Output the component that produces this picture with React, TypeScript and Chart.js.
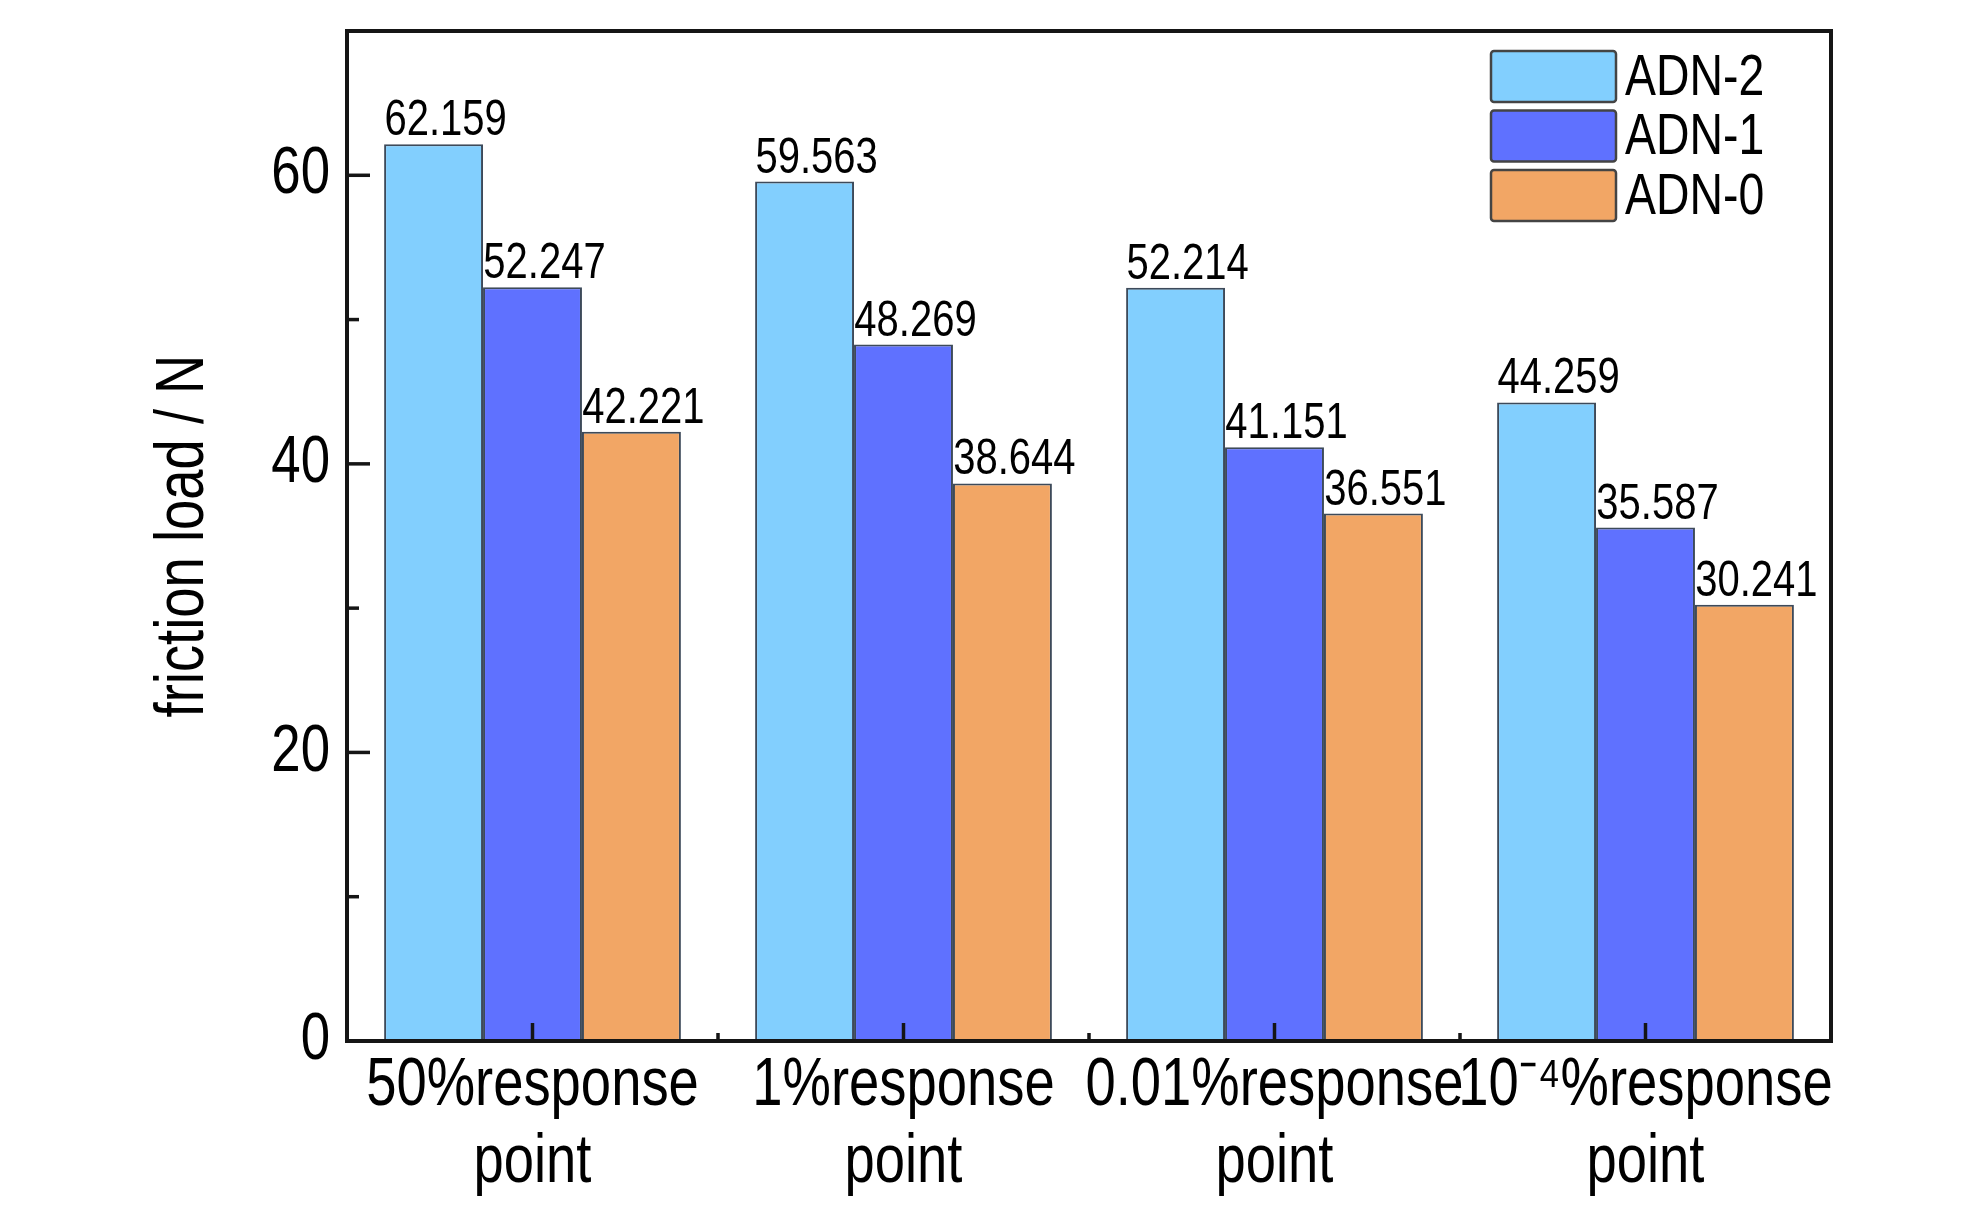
import React, { useEffect, useRef } from "react";
import { Chart, registerables } from "chart.js";

Chart.register(...registerables);

const categories: string[][] = [
  ["50%response", "point"],
  ["1%response", "point"],
  ["0.01%response", "point"],
  ["10\u207B\u2074%response", "point"],
];
const seriesNames = ["ADN-2", "ADN-1", "ADN-0"];
const adn2 = [62.159, 59.563, 52.214, 44.259];
const adn1 = [52.247, 48.269, 41.151, 35.587];
const adn0 = [42.221, 38.644, 36.551, 30.241];
const yMajorTicks = [0, 20, 40, 60];
const yMinorTicks = [10, 30, 50];
const yMin = 0;
const yMax = 70;
const yTitle = "friction load / N";

const FONT = '"Liberation Sans", Arial, sans-serif';
const TEXT_SCALE = 0.8; // condensed (narrow) lettering as in the reference
const colors = ["#82CFFE", "#5F71FF", "#F2A665"];
const borderCol = "#3d4a5a";

const condensePlugin = {
  id: "condense",
  beforeDraw(chart: any) {
    const ctx: any = chart.ctx;
    if (ctx.__condensed) return;
    const orig = ctx.fillText.bind(ctx);
    ctx.fillText = function (text: string, x: number, y: number, maxWidth?: number) {
      ctx.save();
      ctx.translate(x, y);
      ctx.scale(TEXT_SCALE, 1);
      if (maxWidth !== undefined && maxWidth !== null) orig(text, 0, 0, maxWidth / TEXT_SCALE);
      else orig(text, 0, 0);
      ctx.restore();
    };
    ctx.__condensed = true;
  },
};

const framePlugin = {
  id: "frame",
  afterDraw(chart: any) {
    const { ctx, chartArea } = chart;
    const { left, right, top, bottom } = chartArea;
    const ys = chart.scales.y;
    const xs = chart.scales.x;
    ctx.save();
    ctx.strokeStyle = "#151515";
    ctx.lineWidth = 3.5;
    yMajorTicks.forEach((v) => {
      const y = ys.getPixelForValue(v);
      ctx.beginPath();
      ctx.moveTo(left, y);
      ctx.lineTo(left + 23, y);
      ctx.stroke();
    });
    yMinorTicks.forEach((v) => {
      const y = ys.getPixelForValue(v);
      ctx.beginPath();
      ctx.moveTo(left, y);
      ctx.lineTo(left + 12, y);
      ctx.stroke();
    });
    const n = chart.data.labels.length;
    for (let i = 0; i < n; i++) {
      const x = xs.getPixelForValue(i);
      ctx.beginPath();
      ctx.moveTo(x, bottom);
      ctx.lineTo(x, bottom - 18);
      ctx.stroke();
      if (i > 0) {
        const xb = (xs.getPixelForValue(i - 1) + x) / 2;
        ctx.beginPath();
        ctx.moveTo(xb, bottom);
        ctx.lineTo(xb, bottom - 8);
        ctx.stroke();
      }
    }
    ctx.lineWidth = 4;
    ctx.strokeRect(left, top, right - left, bottom - top);
    ctx.restore();
  },
};

const valueLabelPlugin = {
  id: "valueLabels",
  afterDatasetsDraw(chart: any) {
    const { ctx } = chart;
    ctx.save();
    ctx.fillStyle = "#000";
    ctx.font = `50px ${FONT}`;
    ctx.textAlign = "center";
    ctx.textBaseline = "alphabetic";
    chart.data.datasets.forEach((ds: any, di: number) => {
      const meta = chart.getDatasetMeta(di);
      meta.data.forEach((bar: any, i: number) => {
        ctx.fillText(Number(ds.data[i]).toFixed(3), bar.x + 12, bar.y - 9);
      });
    });
    ctx.restore();
  },
};

const insideLegendPlugin = {
  id: "insideLegend",
  afterDraw(chart: any) {
    const { ctx, chartArea } = chart;
    const x0 = chartArea.right - 340;
    const y0 = chartArea.top + 20;
    const w = 125;
    const h = 51;
    const pitch = 59.5;
    ctx.save();
    chart.data.datasets.forEach((ds: any, i: number) => {
      const y = y0 + i * pitch;
      ctx.fillStyle = ds.backgroundColor;
      ctx.strokeStyle = "#444";
      ctx.lineWidth = 2.5;
      ctx.beginPath();
      ctx.roundRect(x0, y, w, h, 3);
      ctx.fill();
      ctx.stroke();
      ctx.fillStyle = "#000";
      ctx.font = `58px ${FONT}`;
      ctx.textAlign = "left";
      ctx.textBaseline = "middle";
      ctx.fillText(ds.label, x0 + w + 9, y + h / 2 + 2);
    });
    ctx.restore();
  },
};

export default function App() {
  const ref = useRef<HTMLCanvasElement | null>(null);
  useEffect(() => {
    if (!ref.current) return;
    const data = [adn2, adn1, adn0];
    const chart = new Chart(ref.current, {
      type: "bar",
      data: {
        labels: categories,
        datasets: seriesNames.map((name, i) => ({
          label: name,
          data: data[i],
          backgroundColor: colors[i],
          borderColor: borderCol,
          borderWidth: 2,
          categoryPercentage: 0.8,
          barPercentage: 1.0,
        })),
      },
      options: {
        animation: false,
        responsive: false,
        devicePixelRatio: 1,
        layout: { padding: { left: 0, top: 31, right: 153, bottom: 0 } },
        plugins: {
          legend: { display: false },
          tooltip: { enabled: false },
          title: { display: false },
        },
        scales: {
          x: {
            grid: { display: false, drawTicks: false },
            border: { display: true, color: "#151515", width: 4 },
            ticks: {
              color: "#000",
              font: { family: FONT, size: 68, lineHeight: 1.14 },
              padding: 6,
              maxRotation: 0,
              minRotation: 0,
              autoSkip: false,
            },
            afterFit: (s: any) => {
              s.height = 164;
              s.paddingLeft = 0;
              s.paddingRight = 0;
            },
          },
          y: {
            min: yMin,
            max: yMax,
            grid: { display: false, drawTicks: false },
            border: { display: true, color: "#151515", width: 4 },
            afterBuildTicks: (s: any) => {
              s.ticks = yMajorTicks.map((v) => ({ value: v }));
            },
            ticks: {
              color: "#000",
              font: { family: FONT, size: 66 },
              padding: 17,
            },
            title: {
              display: true,
              text: yTitle,
              color: "#000",
              font: { family: FONT, size: 68, lineHeight: 1.2 },
              padding: { top: 143, bottom: 0 },
            },
            afterFit: (s: any) => {
              s.width = 347;
              s.paddingTop = 0;
              s.paddingBottom = 0;
            },
          },
        },
      },
      plugins: [condensePlugin, valueLabelPlugin, framePlugin, insideLegendPlugin],
    });
    return () => chart.destroy();
  }, []);
  return (
    <div style={{ position: "fixed", left: 0, top: 0, width: 1984, height: 1205, background: "#fff" }}>
      <canvas ref={ref} width={1984} height={1205} style={{ width: 1984, height: 1205, display: "block" }} />
    </div>
  );
}
